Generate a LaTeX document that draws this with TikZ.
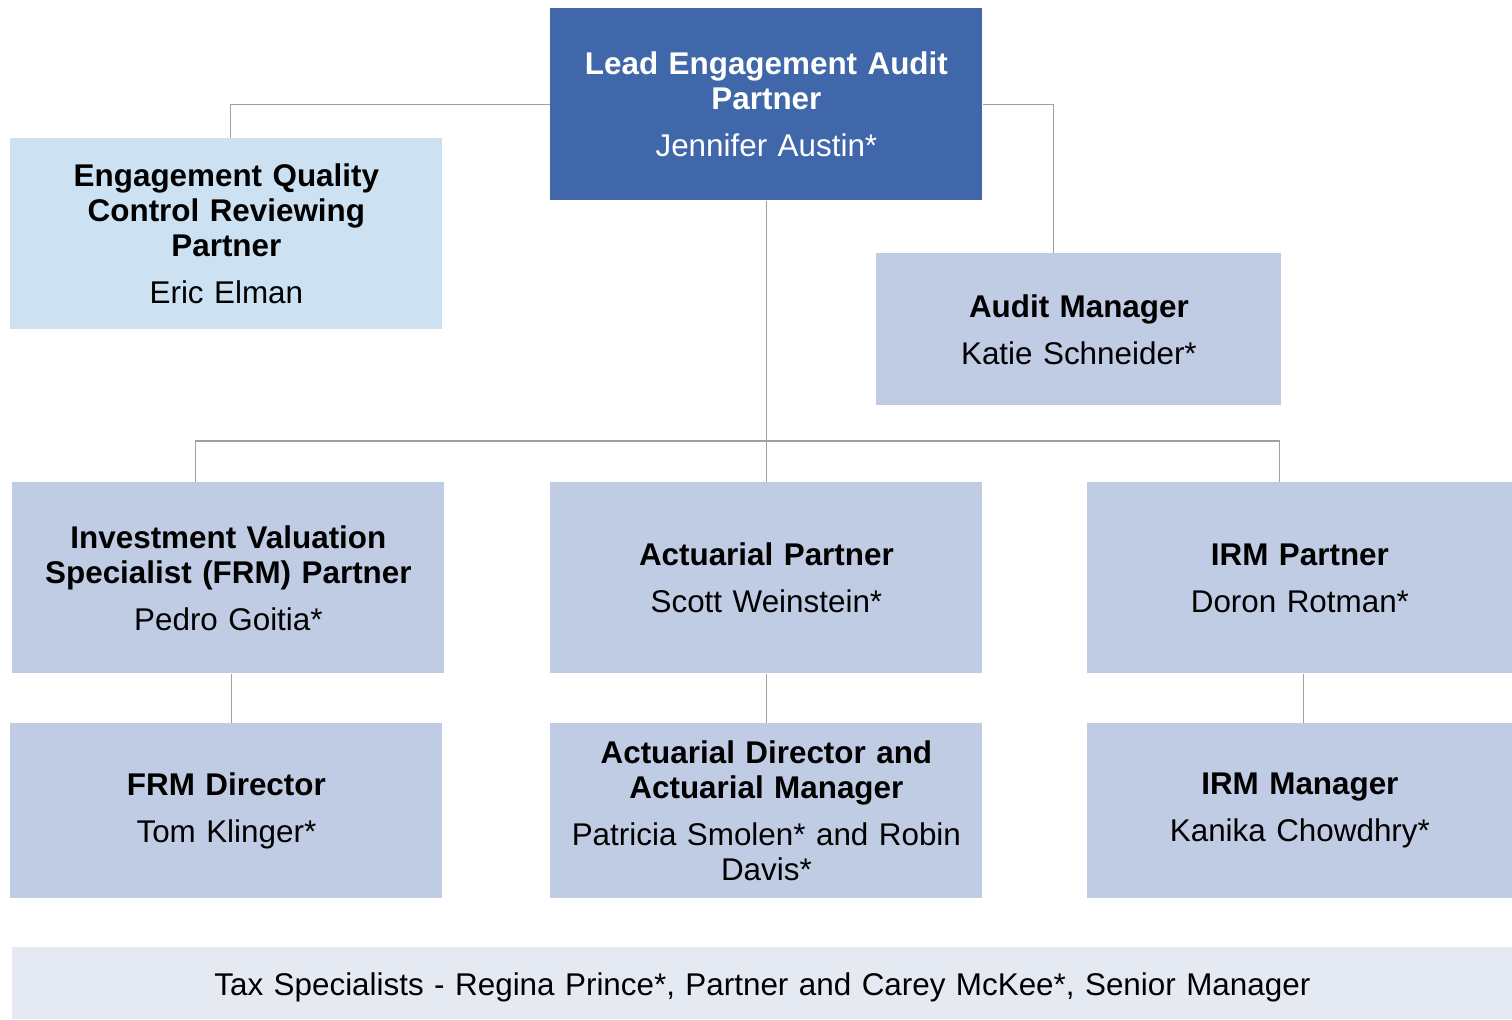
\documentclass[tikz,border=0pt]{standalone}
\usepackage{fontspec}
\setmainfont{Liberation Sans}
\definecolor{leadblue}{RGB}{64,103,170}
\definecolor{qualblue}{RGB}{204,226,242}
\definecolor{roleblue}{RGB}{192,204,228}
\definecolor{taxblue}{RGB}{228,233,242}
\definecolor{linkgray}{RGB}{160,160,160}
\newcommand{\rolebox}[2]{\textbf{#1}\\[6pt]#2}
\begin{document}
\begin{tikzpicture}[x=0.5pt,y=-0.5pt,
  orgbox/.style={rectangle, inner sep=0pt, anchor=north west, align=center,
    fill=roleblue, text=black,
    font=\fontsize{15.7pt}{17.5pt}\selectfont},
  link/.style={draw=linkgray, line width=0.8pt}]
\useasboundingbox (0,0) rectangle (1512,1019);

% top level
\node[orgbox, fill=leadblue, text=white, minimum width=216pt, minimum height=96pt, text width=210pt]
  (lead) at (550,8) {\rolebox{Lead Engagement Audit\\Partner}{Jennifer Austin*}};
\node[orgbox, fill=qualblue, minimum width=216pt, minimum height=95.5pt, text width=210pt]
  (eqcr) at (10,138) {\rolebox{Engagement Quality\\Control Reviewing\\Partner}{Eric Elman}};
\node[orgbox, minimum width=202.5pt, minimum height=76pt, text width=196pt]
  (am) at (876,253) {\rolebox{Audit Manager}{Katie Schneider*}};

% partner row
\node[orgbox, minimum width=216pt, minimum height=95.5pt, text width=212pt]
  (ivs) at (12,482) {\rolebox{Investment Valuation\\Specialist (FRM) Partner}{Pedro Goitia*}};
\node[orgbox, minimum width=216pt, minimum height=95.5pt, text width=210pt]
  (act) at (550,482) {\rolebox{Actuarial Partner}{Scott Weinstein*}};
\node[orgbox, minimum width=212.5pt, minimum height=95.5pt, text width=206pt]
  (irm) at (1087,482) {\rolebox{IRM Partner}{Doron Rotman*}};

% manager row
\node[orgbox, minimum width=216pt, minimum height=87.5pt, text width=210pt]
  (frm) at (10,723) {\rolebox{FRM Director}{Tom Klinger*}};
\node[orgbox, minimum width=216pt, minimum height=87.5pt, text width=212pt]
  (actdir) at (550,723) {\rolebox{Actuarial Director and\\Actuarial Manager}{Patricia Smolen* and Robin\\Davis*}};
\node[orgbox, minimum width=212.5pt, minimum height=87.5pt, text width=206pt]
  (irmmgr) at (1087,723) {\rolebox{IRM Manager}{Kanika Chowdhry*}};

% tax strip
\node[orgbox, fill=taxblue, minimum width=750pt, minimum height=36pt, text width=740pt]
  (tax) at (12,947) {\rule{0pt}{15pt}Tax Specialists - Regina Prince*, Partner and Carey McKee*, Senior Manager};

% connectors
\coordinate (bus) at (766,441);
\draw[link] (lead.west) -| ([xshift=2pt]eqcr.north);
\draw[link] (lead.east) -| ([xshift=-12.75pt]am.north);
\draw[link] (lead.south) -- (act.north);
\draw[link] ([xshift=-16.5pt]ivs.north) |- (bus) -| ([xshift=-10.25pt]irm.north);
\draw[link] ([xshift=1.5pt]ivs.south) -- ([xshift=2.5pt]frm.north);
\draw[link] (act.south) -- (actdir.north);
\draw[link] ([xshift=1.75pt]irm.south) -- ([xshift=1.75pt]irmmgr.north);
\end{tikzpicture}
\end{document}
